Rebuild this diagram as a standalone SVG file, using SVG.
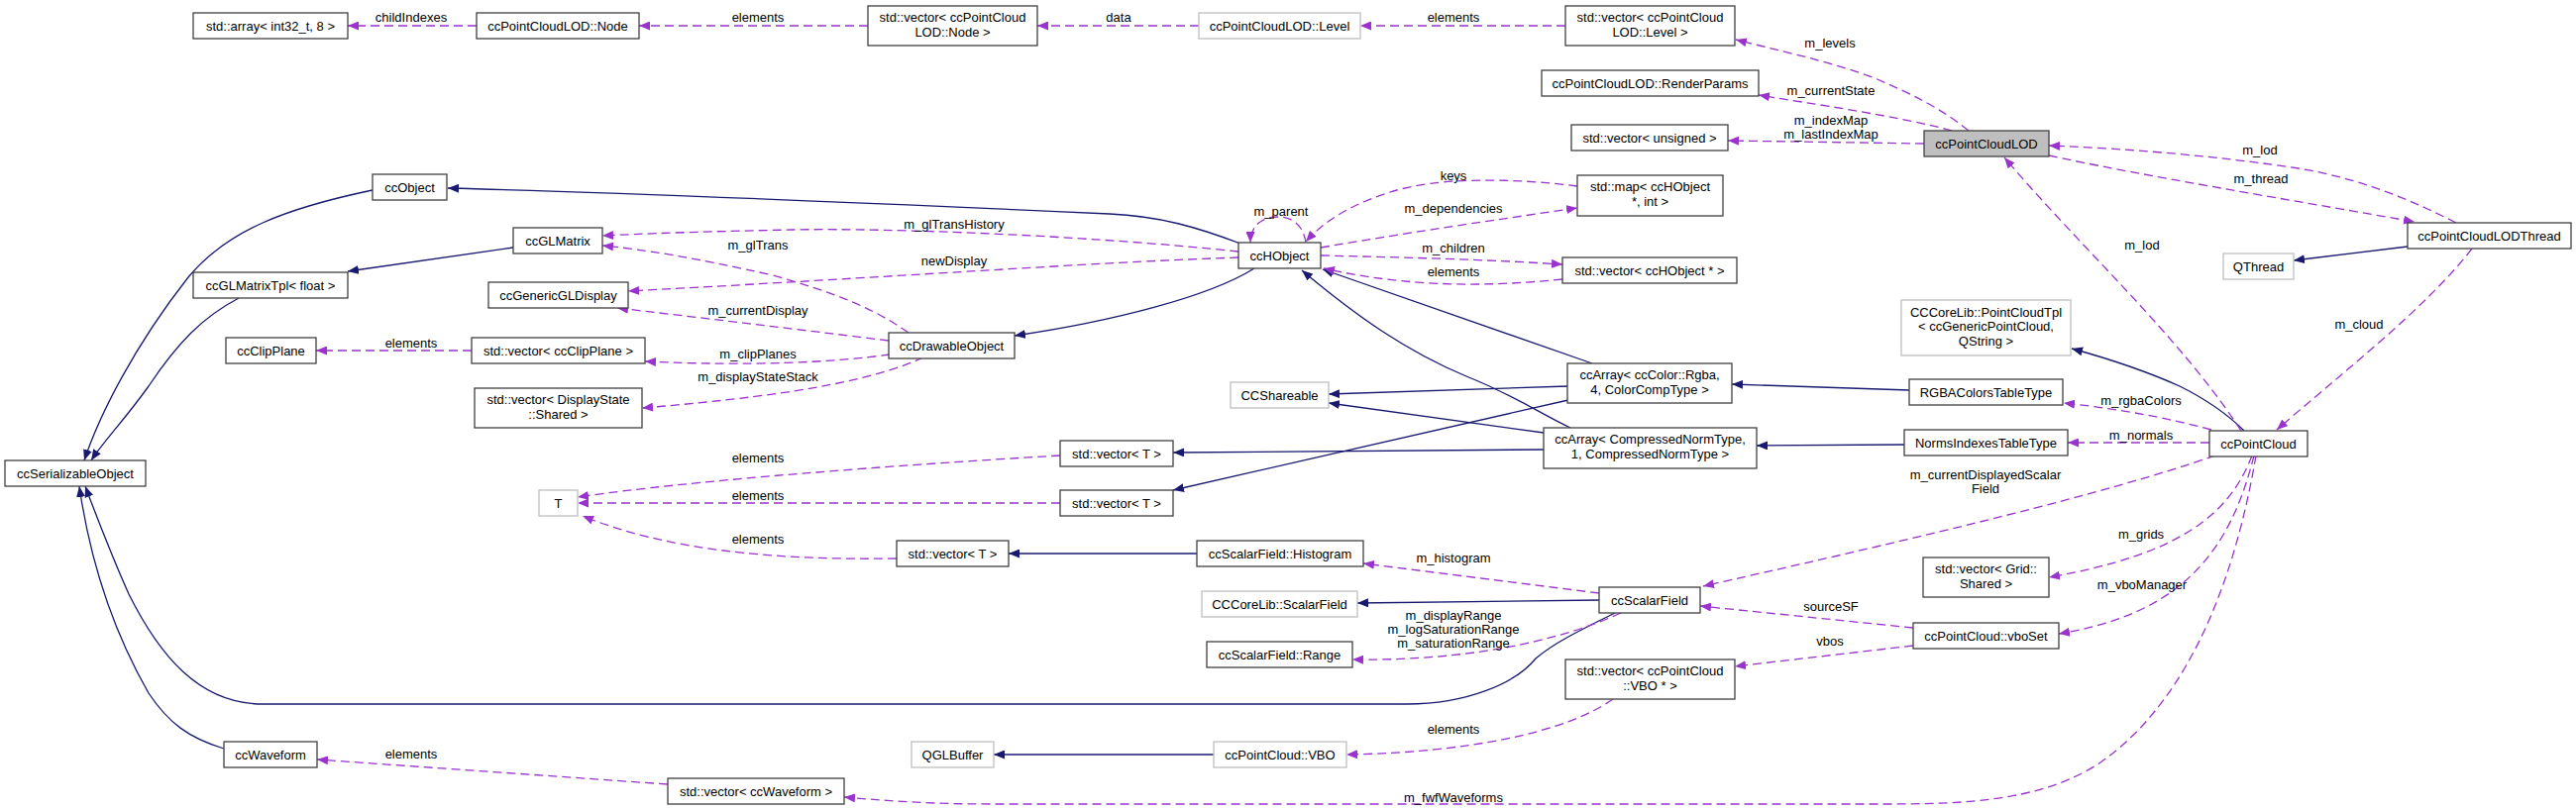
<svg xmlns="http://www.w3.org/2000/svg" width="2600" height="818" viewBox="0 0 2600 818">
<style>
text{font-family:"Liberation Sans",Arial,Helvetica,sans-serif;font-size:13px;fill:#000;}
.n text{text-anchor:middle;}
.lbl{text-anchor:middle;}
.b rect{fill:#fff;stroke:#404040;stroke-width:1.3;}
.g rect{fill:#fff;stroke:#bfbfbf;stroke-width:1.3;}
.f rect{fill:#bfbfbf;stroke:#404040;stroke-width:1.3;}
.inh{fill:none;stroke:#191970;stroke-width:1.3;marker-end:url(#ab);}
.use{fill:none;stroke:#9a32cd;stroke-width:1.3;stroke-dasharray:9,5;marker-end:url(#ap);}
</style>
<defs>
<marker id="ab" viewBox="0 0 11 9" markerWidth="11" markerHeight="9" refX="11" refY="4.5" orient="auto" markerUnits="userSpaceOnUse"><path d="M0,0 L11,4.5 L0,9 z" fill="#191970"/></marker>
<marker id="ap" viewBox="0 0 11 9" markerWidth="11" markerHeight="9" refX="11" refY="4.5" orient="auto" markerUnits="userSpaceOnUse"><path d="M0,0 L11,4.5 L0,9 z" fill="#9a32cd"/></marker>
</defs>
<rect width="2600" height="818" fill="#fff"/>
<g id="edges">
<!-- inheritance -->
<path class="inh" d="M376,192 C290,210 230,232 190,280 C135,350 100,420 85,465"/>
<path class="inh" d="M241,301 C205,320 180,345 150,390 C125,425 105,445 92,465"/>
<path class="inh" d="M518,250 L351,274"/>
<path class="inh" d="M1252,246 C1210,230 1170,218 1120,216 C900,206 650,195 452,190"/>
<path class="inh" d="M1266,271 C1220,300 1120,325 1024,339"/>
<path class="inh" d="M1607,367 L1335,272"/>
<path class="inh" d="M1585,432 C1555,418 1530,400 1480,380 C1420,355 1370,320 1314,273"/>
<path class="inh" d="M1583,390 L1341,398"/>
<path class="inh" d="M1558,437 L1341,407"/>
<path class="inh" d="M1583,404 L1184,495"/>
<path class="inh" d="M1558,454 L1184,457"/>
<path class="inh" d="M1927,394 L1748,388"/>
<path class="inh" d="M1922,449 L1773,450"/>
<path class="inh" d="M2265,435 C2250,420 2230,405 2200,390 C2160,372 2120,360 2091,352"/>
<path class="inh" d="M2430,249 L2315,263"/>
<path class="inh" d="M1208,559 L1018,559"/>
<path class="inh" d="M1614,606 L1370,609"/>
<path class="inh" d="M1630,619 C1600,634 1570,648 1550,665 C1530,690 1480,711 1420,711 L265,711 C200,711 160,660 130,600 C110,555 95,515 86,491"/>
<path class="inh" d="M226,756 C190,745 170,730 150,700 C110,630 90,560 80,491"/>
<path class="inh" d="M1225,762 L1003,762"/>
<!-- usage -->
<path class="use" d="M481,26 L351,26"/>
<text class="lbl" x="415" y="21.5">childIndexes</text>
<path class="use" d="M876,26 L645,26"/>
<text class="lbl" x="765" y="21.5">elements</text>
<path class="use" d="M1210,26 L1047,26"/>
<text class="lbl" x="1129" y="21.5">data</text>
<path class="use" d="M1580,26 L1373,26"/>
<text class="lbl" x="1467" y="21.5">elements</text>
<path class="use" d="M1987,132 C1960,110 1930,95 1890,78 C1840,60 1790,50 1752,40"/>
<text class="lbl" x="1847" y="47.5">m_levels</text>
<path class="use" d="M1970,132 C1920,118 1830,105 1775,96"/>
<text class="lbl" x="1848" y="95.5">m_currentState</text>
<path class="use" d="M1942,145 L1744,142"/>
<text class="lbl" x="1848" y="125.5">m_indexMap</text>
<text class="lbl" x="1848" y="139.5">m_lastIndexMap</text>
<path class="use" d="M2479,225 C2430,200 2380,180 2320,170 C2240,158 2150,150 2068,147"/>
<text class="lbl" x="2281" y="155.5">m_lod</text>
<path class="use" d="M2068,157 C2150,175 2300,200 2437,224"/>
<text class="lbl" x="2282" y="184.5">m_thread</text>
<path class="use" d="M2262,435 C2200,340 2100,250 2023,159"/>
<text class="lbl" x="2162" y="251.5">m_lod</text>
<path class="use" d="M2495,251 C2450,310 2360,380 2298,434"/>
<text class="lbl" x="2381" y="331.5">m_cloud</text>
<path class="use" d="M2232,434 C2180,420 2130,412 2083,407"/>
<text class="lbl" x="2161" y="408.5">m_rgbaColors</text>
<path class="use" d="M2230,447 L2087,447"/>
<text class="lbl" x="2161" y="443.5">m_normals</text>
<path class="use" d="M2236,460 C2120,500 1950,540 1719,592"/>
<text class="lbl" x="2004" y="483.5">m_currentDisplayedScalar</text>
<text class="lbl" x="2004" y="497.5">Field</text>
<path class="use" d="M2273,460 C2250,520 2200,560 2068,583"/>
<text class="lbl" x="2161" y="543.5">m_grids</text>
<path class="use" d="M2275,460 C2250,560 2200,620 2078,640"/>
<text class="lbl" x="2162" y="594.5">m_vboManager</text>
<path class="use" d="M2277,460 C2260,560 2220,700 2120,770 C2060,810 1980,812 1900,812 L1000,812 C940,812 900,809 852,805"/>
<text class="lbl" x="1467" y="809.5">m_fwfWaveforms</text>
<path class="use" d="M674,792 L320,767"/>
<text class="lbl" x="415" y="765.5">elements</text>
<path class="use" d="M1931,634 L1716,612"/>
<text class="lbl" x="1848" y="616.5">sourceSF</text>
<path class="use" d="M1931,652 L1751,673"/>
<text class="lbl" x="1847" y="651.5">vbos</text>
<path class="use" d="M1628,706 C1580,740 1480,760 1359,762"/>
<text class="lbl" x="1467" y="740.5">elements</text>
<path class="use" d="M1614,599 L1376,569"/>
<text class="lbl" x="1467" y="567.5">m_histogram</text>
<path class="use" d="M1636,619 C1590,640 1500,668 1365,666"/>
<text class="lbl" x="1467" y="625.5">m_displayRange</text>
<text class="lbl" x="1467" y="639.5">m_logSaturationRange</text>
<text class="lbl" x="1467" y="653.5">m_saturationRange</text>
<path class="use" d="M1070,460 C900,470 700,485 583,502"/>
<text class="lbl" x="765" y="466.5">elements</text>
<path class="use" d="M1070,508 L583,508"/>
<text class="lbl" x="765" y="504.5">elements</text>
<path class="use" d="M905,564 C780,566 670,555 588,521"/>
<text class="lbl" x="765" y="548.5">elements</text>
<path class="use" d="M1318,245 C1315,225 1302,219 1290,219 C1276,219 1262,226 1262,245"/>
<text class="lbl" x="1293" y="217.5">m_parent</text>
<path class="use" d="M1592,188 C1530,180 1450,178 1400,195 C1360,208 1335,225 1318,244"/>
<text class="lbl" x="1467" y="181.5">keys</text>
<path class="use" d="M1333,250 C1420,235 1510,222 1592,210"/>
<text class="lbl" x="1467" y="214.5">m_dependencies</text>
<path class="use" d="M1333,258 C1420,260 1500,262 1577,267"/>
<text class="lbl" x="1467" y="254.5">m_children</text>
<path class="use" d="M1577,282 C1500,290 1420,290 1336,271"/>
<text class="lbl" x="1467" y="278.5">elements</text>
<path class="use" d="M1250,254 C1100,238 900,230 800,232 C700,234 650,236 608,238"/>
<text class="lbl" x="963" y="230.5">m_glTransHistory</text>
<path class="use" d="M917,336 C880,310 840,295 780,278 C700,260 650,252 608,248"/>
<text class="lbl" x="765" y="251.5">m_glTrans</text>
<path class="use" d="M1250,260 C1100,265 900,280 634,294"/>
<text class="lbl" x="963" y="267.5">newDisplay</text>
<path class="use" d="M897,344 C800,332 700,320 623,311"/>
<text class="lbl" x="765" y="317.5">m_currentDisplay</text>
<path class="use" d="M898,358 C840,366 760,370 651,365"/>
<text class="lbl" x="765" y="361.5">m_clipPlanes</text>
<path class="use" d="M932,361 C890,380 820,398 648,412"/>
<text class="lbl" x="765" y="384.5">m_displayStateStack</text>
<path class="use" d="M476,354 L319,354"/>
<text class="lbl" x="415" y="350.5">elements</text>
</g>
<g id="nodes">
<g id="n-std-array" class="n b"><rect x="195" y="13" width="156" height="26"/><text x="273" y="30.5">std::array&lt; int32_t, 8 &gt;</text></g>
<g id="n-lod-node" class="n b"><rect x="481" y="13" width="164" height="26"/><text x="563" y="30.5">ccPointCloudLOD::Node</text></g>
<g id="n-vec-node" class="n b"><rect x="876" y="6" width="171" height="40"/><text x="961.5" y="22">std::vector&lt; ccPointCloud</text><text x="961.5" y="37">LOD::Node &gt;</text></g>
<g id="n-lod-level" class="n g"><rect x="1210" y="13" width="163" height="26"/><text x="1291.5" y="30.5">ccPointCloudLOD::Level</text></g>
<g id="n-vec-level" class="n b"><rect x="1580" y="6" width="171" height="40"/><text x="1665.5" y="22">std::vector&lt; ccPointCloud</text><text x="1665.5" y="37">LOD::Level &gt;</text></g>
<g id="n-renderparams" class="n b"><rect x="1556" y="71" width="219" height="26"/><text x="1665.5" y="88.5">ccPointCloudLOD::RenderParams</text></g>
<g id="n-vec-unsigned" class="n b"><rect x="1586" y="126" width="158" height="26"/><text x="1665" y="143.5">std::vector&lt; unsigned &gt;</text></g>
<g id="n-lod" class="n f"><rect x="1942" y="132" width="126" height="26"/><text x="2005" y="149.5">ccPointCloudLOD</text></g>
<g id="n-lodthread" class="n b"><rect x="2430" y="225" width="165" height="26"/><text x="2512.5" y="242.5">ccPointCloudLODThread</text></g>
<g id="n-qthread" class="n g"><rect x="2244" y="256" width="71" height="26"/><text x="2279.5" y="273.5">QThread</text></g>
<g id="n-ccobject" class="n b"><rect x="376" y="176" width="75" height="26"/><text x="413.5" y="193.5">ccObject</text></g>
<g id="n-glmatrix" class="n b"><rect x="518" y="230" width="90" height="26"/><text x="563" y="247.5">ccGLMatrix</text></g>
<g id="n-glmatrixtpl" class="n b"><rect x="195" y="275" width="156" height="26"/><text x="273" y="292.5">ccGLMatrixTpl&lt; float &gt;</text></g>
<g id="n-genericgldisplay" class="n b"><rect x="493" y="285" width="141" height="26"/><text x="563.5" y="302.5">ccGenericGLDisplay</text></g>
<g id="n-clipplane" class="n b"><rect x="228" y="341" width="91" height="26"/><text x="273.5" y="358.5">ccClipPlane</text></g>
<g id="n-vec-clipplane" class="n b"><rect x="476" y="341" width="175" height="26"/><text x="563.5" y="358.5">std::vector&lt; ccClipPlane &gt;</text></g>
<g id="n-vec-displaystate" class="n b"><rect x="479" y="392" width="169" height="40"/><text x="563.5" y="408">std::vector&lt; DisplayState</text><text x="563.5" y="423">::Shared &gt;</text></g>
<g id="n-serializable" class="n b"><rect x="5" y="465" width="142" height="26"/><text x="76" y="482.5">ccSerializableObject</text></g>
<g id="n-hobject" class="n b"><rect x="1250" y="245" width="83" height="26"/><text x="1291.5" y="262.5">ccHObject</text></g>
<g id="n-drawable" class="n b"><rect x="897" y="336" width="127" height="26"/><text x="960.5" y="353.5">ccDrawableObject</text></g>
<g id="n-map" class="n b"><rect x="1592" y="177" width="147" height="41"/><text x="1665.5" y="193">std::map&lt; ccHObject</text><text x="1665.5" y="208">*, int &gt;</text></g>
<g id="n-vec-hobject" class="n b"><rect x="1577" y="260" width="176" height="26"/><text x="1665" y="277.5">std::vector&lt; ccHObject * &gt;</text></g>
<g id="n-ccshareable" class="n g"><rect x="1242" y="386" width="99" height="26"/><text x="1291.5" y="403.5">CCShareable</text></g>
<g id="n-array-rgba" class="n b"><rect x="1582" y="367" width="166" height="40"/><text x="1665" y="383">ccArray&lt; ccColor::Rgba,</text><text x="1665" y="398">4, ColorCompType &gt;</text></g>
<g id="n-array-cnt" class="n b"><rect x="1558" y="432" width="215" height="41"/><text x="1665.5" y="448">ccArray&lt; CompressedNormType,</text><text x="1665.5" y="463">1, CompressedNormType &gt;</text></g>
<g id="n-pointcloudtpl" class="n g"><rect x="1919" y="303" width="171" height="56"/><text x="2004.5" y="319.5">CCCoreLib::PointCloudTpl</text><text x="2004.5" y="334">&lt; ccGenericPointCloud,</text><text x="2004.5" y="348.5">QString &gt;</text></g>
<g id="n-rgba" class="n b"><rect x="1927" y="383" width="155" height="26"/><text x="2004.5" y="400.5">RGBAColorsTableType</text></g>
<g id="n-norms" class="n b"><rect x="1922" y="434" width="165" height="26"/><text x="2004.5" y="451.5">NormsIndexesTableType</text></g>
<g id="n-pointcloud" class="n b"><rect x="2230" y="435" width="99" height="26"/><text x="2279.5" y="452.5">ccPointCloud</text></g>
<g id="n-t" class="n g"><rect x="544" y="495" width="39" height="26"/><text x="563.5" y="512.5">T</text></g>
<g id="n-vec-t1" class="n b"><rect x="1070" y="445" width="114" height="26"/><text x="1127" y="462.5">std::vector&lt; T &gt;</text></g>
<g id="n-vec-t2" class="n b"><rect x="1070" y="495" width="114" height="26"/><text x="1127" y="512.5">std::vector&lt; T &gt;</text></g>
<g id="n-vec-t3" class="n b"><rect x="905" y="546" width="113" height="26"/><text x="961.5" y="563.5">std::vector&lt; T &gt;</text></g>
<g id="n-histogram" class="n b"><rect x="1208" y="546" width="168" height="26"/><text x="1292" y="563.5">ccScalarField::Histogram</text></g>
<g id="n-cc-scalarfield" class="n g"><rect x="1213" y="597" width="157" height="26"/><text x="1291.5" y="614.5">CCCoreLib::ScalarField</text></g>
<g id="n-range" class="n b"><rect x="1218" y="648" width="147" height="26"/><text x="1291.5" y="665.5">ccScalarField::Range</text></g>
<g id="n-scalarfield" class="n b"><rect x="1614" y="593" width="102" height="26"/><text x="1665" y="610.5">ccScalarField</text></g>
<g id="n-vboset" class="n b"><rect x="1931" y="629" width="147" height="26"/><text x="2004.5" y="646.5">ccPointCloud::vboSet</text></g>
<g id="n-vec-vbo" class="n b"><rect x="1580" y="666" width="171" height="40"/><text x="1665.5" y="682">std::vector&lt; ccPointCloud</text><text x="1665.5" y="697">::VBO * &gt;</text></g>
<g id="n-vec-grid" class="n b"><rect x="1941" y="563" width="127" height="40"/><text x="2004.5" y="579">std::vector&lt; Grid::</text><text x="2004.5" y="594">Shared &gt;</text></g>
<g id="n-qglbuffer" class="n g"><rect x="920" y="749" width="83" height="26"/><text x="961.5" y="766.5">QGLBuffer</text></g>
<g id="n-vbo" class="n g"><rect x="1225" y="749" width="134" height="26"/><text x="1292" y="766.5">ccPointCloud::VBO</text></g>
<g id="n-waveform" class="n b"><rect x="226" y="749" width="94" height="26"/><text x="273" y="766.5">ccWaveform</text></g>
<g id="n-vec-waveform" class="n b"><rect x="674" y="786" width="178" height="26"/><text x="763" y="803.5">std::vector&lt; ccWaveform &gt;</text></g>
</g>
</svg>
